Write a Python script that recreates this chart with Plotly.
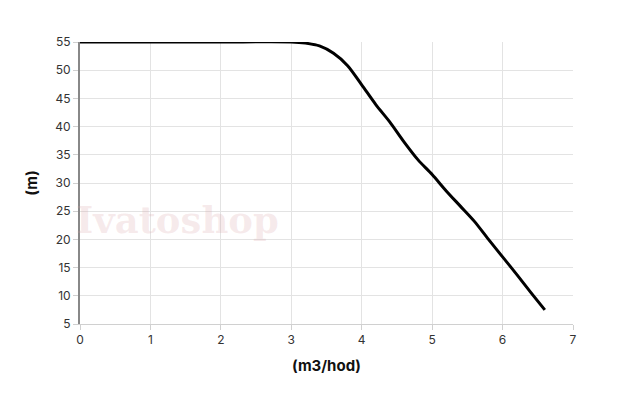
import plotly.graph_objects as go

flow = [0, 1, 2, 3.0, 3.2, 3.4, 3.6, 3.8, 4.0, 4.2, 4.4, 4.6, 4.8, 5.0, 5.2, 5.4, 5.6, 5.8, 6.0, 6.2, 6.4, 6.6]
head = [55, 55, 55, 55, 54.8, 54.3, 53.0, 50.8, 47.4, 43.9, 40.8, 37.3, 34.1, 31.5, 28.6, 25.9, 23.2, 20.0, 16.9, 13.8, 10.6, 7.5]

x_ticks = [0, 1, 2, 3, 4, 5, 6, 7]
y_ticks = [5, 10, 15, 20, 25, 30, 35, 40, 45, 50, 55]

font_family = "Inter, Roboto, sans-serif"

fig = go.Figure()
fig.add_trace(go.Scatter(
    x=flow, y=head, mode="lines",
    line=dict(color="#000000", width=3, shape="spline", smoothing=0.8),
    cliponaxis=False, showlegend=False, hoverinfo="skip",
))

fig.update_layout(
    width=628, height=413,
    margin=dict(l=72, r=63, t=34, b=97),
    paper_bgcolor="white", plot_bgcolor="white",
    font=dict(family=font_family, size=12, color="#333333"),
    annotations=[dict(
        text="<b>Ivatoshop</b>", x=1.38, y=23.4, xref="x", yref="y",
        showarrow=False,
        font=dict(family="DejaVu Serif, Liberation Serif, serif", size=37, color="rgba(215,160,165,0.22)"),
    )],
)
fig.update_xaxes(
    range=[0, 7], tickvals=x_ticks, ticktext=[str(v) for v in x_ticks],
    showgrid=True, gridcolor="#e3e3e3", gridwidth=1,
    showline=True, linecolor="#d0d0d0", linewidth=1,
    ticks="outside", ticklen=5, tickcolor="#d0d0d0",
    zeroline=False,
    title=dict(text="<b>(m3/hod)</b>", font=dict(family=font_family, size=15, color="#111111"), standoff=14),
    tickfont=dict(size=12, color="#333333"),
)
fig.update_yaxes(
    range=[5, 55], tickvals=y_ticks, ticktext=[str(v) for v in y_ticks],
    showgrid=True, gridcolor="#e3e3e3", gridwidth=1,
    showline=True, linecolor="#888888", linewidth=2,
    ticks="outside", ticklen=5, tickcolor="#d0d0d0",
    zeroline=False,
    title=dict(text="<b>(m)</b>", font=dict(family=font_family, size=15, color="#111111"), standoff=14),
    tickfont=dict(size=12, color="#333333"),
)

fig.write_html("out.html")
